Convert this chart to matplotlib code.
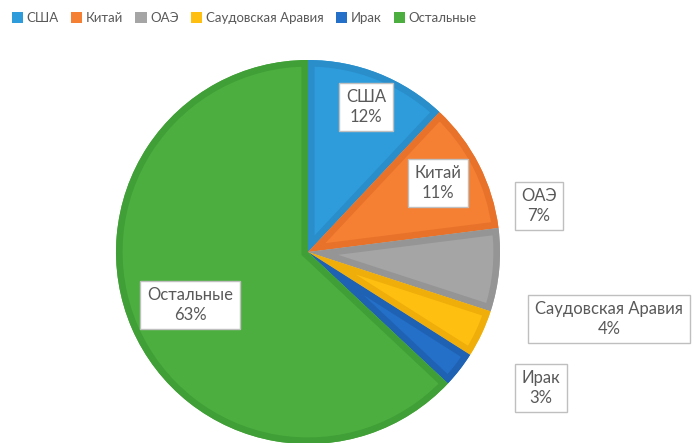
import matplotlib
matplotlib.use("Agg")
import matplotlib.pyplot as plt
from matplotlib.patches import Patch, Wedge

# data
labels = ["США", "Китай", "ОАЭ", "Саудовская Аравия", "Ирак", "Остальные"]
shares = [12, 11, 7, 4, 3, 63]
fills = ["#2E9CDB", "#F57F32", "#A5A5A5", "#FFBF10", "#2470C8", "#4CAE3F"]
edges = ["#2A8ECB", "#E8722A", "#959595", "#F0AE0A", "#1F62B4", "#409F36"]
# label box centres (pixels, from top-left)
label_pos = [(366, 107), (438, 183), (539, 206), (609, 319), (541, 388), (190, 305)]

W, H = 694, 443
fig = plt.figure(figsize=(W / 100, H / 100), dpi=100)
ax = fig.add_axes([0, 0, 1, 1])

wedges, _ = ax.pie(shares, colors=fills, startangle=90, counterclock=False,
                   center=(308, H - 252), radius=192, frame=True,
                   wedgeprops=dict(linewidth=0))
# inner border: a stroke clipped to its own wedge
for w, ec in zip(wedges, edges):
    ring = Wedge(w.center, w.r, w.theta1, w.theta2, fill=False,
                 edgecolor=ec, linewidth=9.5)
    ax.add_patch(ring)
    ring.set_clip_path(w)

ax.set_xlim(0, W)
ax.set_ylim(0, H)
ax.set_aspect("equal")
ax.axis("off")

txt_font = ["Lato", "DejaVu Sans"]
for lab, val, (x, y) in zip(labels, shares, label_pos):
    ax.text(x, H - y, f"{lab}\n{val}%", ha="center", va="center",
            fontsize=12, color="#595959", family=txt_font, linespacing=1.25,
            bbox=dict(boxstyle="square,pad=0.4", fc="white", ec="#BFBFBF", lw=1))

handles = [Patch(facecolor=c, edgecolor="none") for c in fills]
fig.legend(handles, labels, loc="upper left", bbox_to_anchor=(0.0, 1.0),
           ncol=6, frameon=False, prop={"family": txt_font, "size": 9.5},
           handlelength=0.85, handleheight=0.85, handletextpad=0.25,
           columnspacing=0.95, labelcolor="#595959", borderaxespad=0.5)

fig.savefig("out.png", dpi=100)
